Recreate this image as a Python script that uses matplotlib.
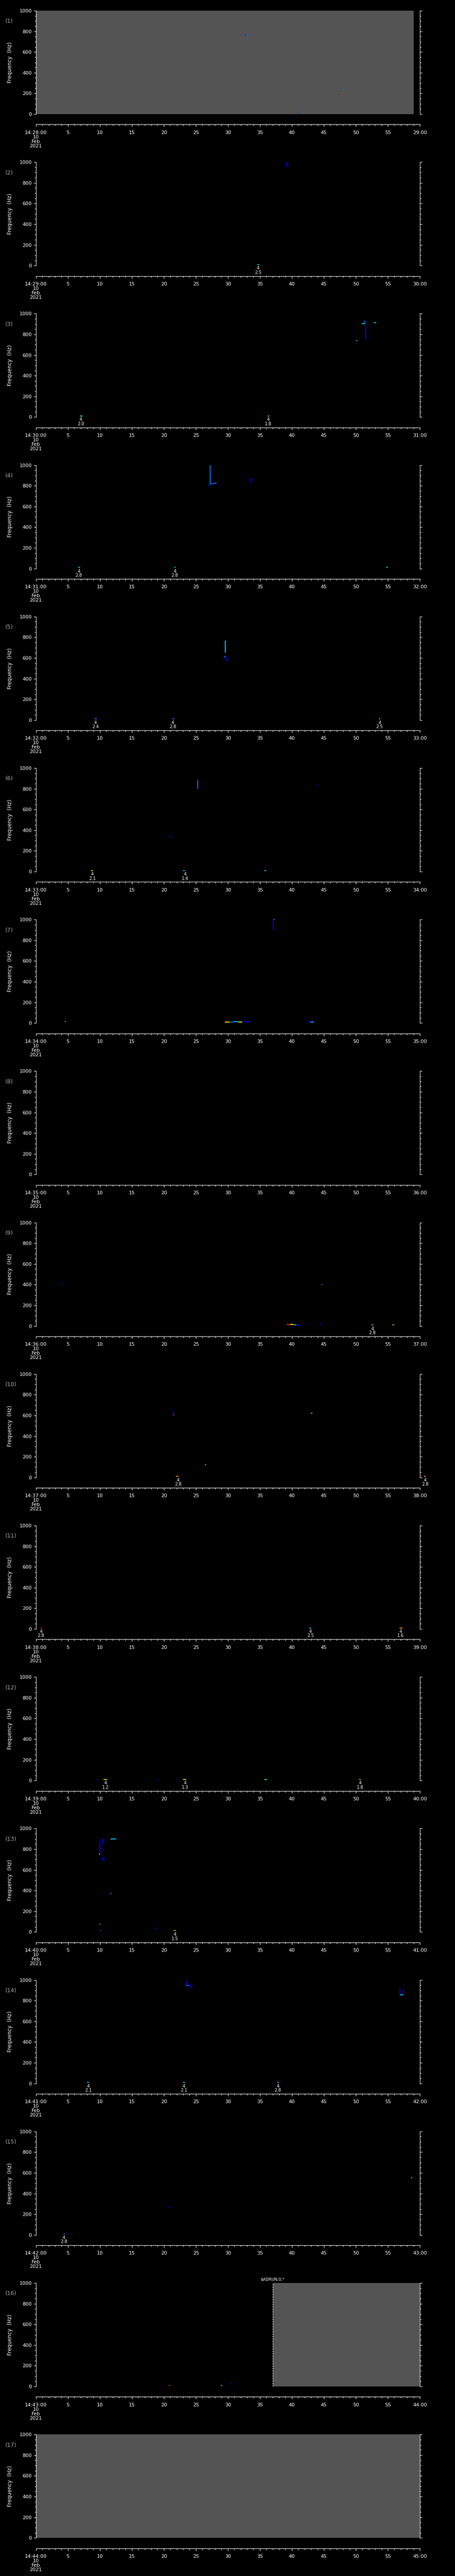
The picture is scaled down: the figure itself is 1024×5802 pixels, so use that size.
import matplotlib
matplotlib.use("Agg")
import matplotlib.pyplot as plt
from matplotlib.ticker import MultipleLocator

# one panel per minute, 14:28 -> 14:44 on 10 Feb 2021
minutes = list(range(28, 45))
date_lines = ["10", "Feb", "2021"]
freq_ticks = [0, 200, 400, 600, 800, 1000]

# grey = no data, panel -> (t0, t1) in seconds
gray_spans = {1: (0, 59), 16: (37, 60), 17: (0, 60)}
adrun_time = 37.0  # panel 16 marker

# spectrogram colours (jet-ish)
B, LB, C, G, Y, O, R = "#0000ff", "#0a78ff", "#00d0ff", "#40ff90", "#f0f000", "#ff9000", "#ff2000"

# traces per panel: (t0, t1, f0, f1, colour)
traces = {
    1: [(32.7, 33.0, 765, 765, B), (32.9, 33.1, 758, 770, LB), (47.9, 48.1, 242, 242, LB),
        (41.6, 41.8, 16, 16, LB)],
    2: [(39.2, 39.2, 960, 998, B), (39.05, 39.2, 960, 960, B), (34.6, 34.9, 10, 10, C)],
    3: [(51.5, 51.5, 765, 880, B), (51.5, 51.7, 762, 762, B), (50.9, 51.3, 905, 905, C),
        (51.4, 51.4, 900, 935, LB), (52.8, 53.1, 910, 910, C), (50.0, 50.2, 740, 740, C),
        (6.9, 7.3, 12, 12, G), (36.2, 36.5, 12, 12, C)],
    4: [(27.2, 27.2, 808, 1000, LB), (26.9, 27.2, 806, 806, B), (27.4, 28.2, 818, 828, LB),
        (33.5, 33.5, 830, 865, B), (33.5, 33.7, 865, 865, B), (6.6, 6.9, 10, 10, C),
        (21.6, 21.8, 10, 10, C), (54.7, 55.0, 10, 10, C)],
    5: [(29.6, 29.6, 650, 766, C), (29.6, 29.7, 766, 766, LB), (29.4, 29.6, 605, 620, LB),
        (29.7, 29.7, 570, 615, B), (9.2, 9.5, 10, 10, LB), (21.3, 21.6, 10, 10, LB),
        (53.6, 53.8, 10, 10, C)],
    6: [(25.3, 25.3, 800, 883, LB), (25.2, 25.3, 800, 800, B), (43.8, 44.0, 837, 837, B),
        (21.0, 21.2, 337, 337, B), (8.6, 8.9, 10, 10, Y), (23.0, 23.3, 10, 10, C),
        (35.7, 36.0, 10, 10, C)],
    7: [(37.1, 37.1, 896, 1000, B), (37.1, 37.3, 1000, 1000, LB), (4.5, 4.7, 15, 15, G),
        (29.5, 30.2, 10, 10, Y), (30.2, 30.9, 10, 10, LB), (30.9, 31.6, 12, 12, C),
        (31.6, 32.2, 10, 10, Y), (32.2, 33.4, 12, 12, B), (42.3, 42.9, 12, 12, B),
        (42.9, 43.4, 10, 10, C)],
    8: [],
    9: [(4.1, 4.3, 414, 414, B), (44.6, 44.8, 402, 402, LB), (39.2, 39.7, 15, 15, R),
        (39.7, 40.2, 15, 15, Y), (40.2, 40.7, 12, 12, C), (40.7, 41.3, 8, 8, B),
        (42.3, 42.5, 15, 15, B), (44.3, 44.5, 15, 15, B), (52.4, 52.7, 12, 12, C),
        (55.7, 56.0, 12, 12, G)],
    10: [(21.5, 21.5, 602, 648, B), (21.5, 21.6, 605, 605, R), (43.0, 43.2, 623, 623, G),
         (26.4, 26.6, 124, 124, C), (21.9, 22.3, 12, 12, O), (60.6, 60.9, 12, 12, O)],
    11: [(0.7, 0.9, 10, 10, R), (42.7, 43.0, 10, 10, C), (56.8, 57.3, 10, 10, O)],
    12: [(10.6, 11.1, 10, 10, Y), (18.8, 19.0, 10, 10, B), (23.0, 23.5, 10, 10, Y),
         (35.7, 36.1, 10, 10, G), (50.5, 50.8, 10, 10, G)],
    13: [(10.0, 10.0, 752, 883, B), (9.9, 10.05, 752, 752, Y), (10.3, 10.3, 854, 902, B),
         (10.5, 10.5, 854, 900, B), (10.4, 10.4, 691, 729, B), (10.4, 10.7, 691, 691, B),
         (11.7, 12.5, 898, 898, C), (11.6, 11.8, 372, 372, LB), (9.95, 10.1, 73, 73, C),
         (10.05, 10.15, 13, 13, LB), (18.6, 18.9, 38, 38, B), (21.5, 21.9, 15, 15, O)],
    14: [(23.5, 23.5, 945, 996, B), (23.5, 23.9, 945, 945, LB), (24.1, 24.1, 923, 955, B),
         (56.9, 56.9, 862, 919, B), (56.9, 57.4, 855, 855, C), (57.45, 57.45, 852, 910, B),
         (8.0, 8.3, 10, 10, C), (23.0, 23.3, 10, 10, C), (37.7, 37.9, 10, 10, C)],
    15: [(58.6, 58.8, 554, 554, C), (20.7, 20.7, 260, 275, B), (4.3, 4.5, 10, 10, LB)],
    16: [(20.8, 21.0, 10, 10, R), (28.9, 29.1, 10, 10, O), (30.4, 30.6, 25, 25, B)],
    17: [],
}

# detections printed under the panel: (t, value), class is always 4
detections = {
    2: [(34.7, 2.5)],
    3: [(7.0, 2.0), (36.3, 1.8)],
    4: [(6.7, 2.8), (21.7, 2.8)],
    5: [(9.3, 2.4), (21.4, 2.8), (53.7, 2.5)],
    6: [(8.8, 2.1), (23.3, 1.4)],
    9: [(52.6, 2.8)],
    10: [(22.2, 2.8), (60.8, 2.8)],
    11: [(0.8, 2.8), (42.9, 2.5), (57.0, 1.6)],
    12: [(10.9, 1.2), (23.3, 1.3), (50.65, 1.8)],
    13: [(21.7, 1.5)],
    14: [(8.2, 2.1), (23.1, 2.1), (37.8, 2.8)],
    15: [(4.4, 2.8)],
}

W, H = 1024, 5802
fig = plt.figure(figsize=(W / 100, H / 100), dpi=100, facecolor="black")

left_px, right_px = 80.7, 945.0
first_top, step, panel_h = 24.0, 341.2, 233.0

for i, m in enumerate(minutes):
    p = i + 1
    top = first_top + step * i
    ax = fig.add_axes([left_px / W, 1 - (top + panel_h) / H, (right_px - left_px) / W, panel_h / H])
    ax.set_facecolor("black")
    ax.set_xlim(0, 60)
    ax.set_ylim(0, 1000)

    if p in gray_spans:
        g0, g1 = gray_spans[p]
        ax.axvspan(g0, g1, color="#545454", lw=0, zorder=0)
    if p == 16:
        ax.axvline(adrun_time, color="white", lw=0.8, ls=(0, (3, 2)), zorder=1)
        ax.annotate("$ADRUN,0,*", xy=(adrun_time, 1000), xytext=(0, 4), textcoords="offset pixels",
                    ha="center", va="bottom", color="white", fontsize=6.5, annotation_clip=False)

    for t0, t1, f0, f1, col in traces[p]:
        ax.plot([t0, t1], [f0, f1], color=col, lw=1.4, solid_capstyle="butt", clip_on=False, zorder=2)

    for t, v in detections.get(p, []):
        ax.annotate("4", xy=(t, 0), xytext=(0, -6), textcoords="offset pixels", ha="center",
                    va="center", color="white", fontsize=7, annotation_clip=False)
        ax.annotate(f"{v:.1f}", xy=(t, 0), xytext=(0, -15.5), textcoords="offset pixels",
                    ha="center", va="center", color="white", fontsize=7, annotation_clip=False)

    for side in ["top"]:
        ax.spines[side].set_visible(False)
    for side in ["left", "right", "bottom"]:
        ax.spines[side].set_color("white")
        ax.spines[side].set_linewidth(0.8)
    ax.spines["bottom"].set_position(("outward", 16.8))

    ax.set_yticks(freq_ticks)
    ax.yaxis.set_minor_locator(MultipleLocator(50))
    ax.set_xticks(range(0, 61, 5))
    ax.xaxis.set_minor_locator(MultipleLocator(1))
    xlabels = [f"14:{m:02d}:00\n" + "\n".join(date_lines)] + [str(s) for s in range(5, 60, 5)] + [f"{m + 1:02d}:00"]
    ax.set_xticklabels(xlabels)
    for lbl in ax.get_xticklabels():
        lbl.set_linespacing(1.0)

    ax.tick_params(axis="y", which="both", direction="out", left=True, right=True, colors="white",
                   labelsize=8, width=0.8, pad=3.2)
    ax.tick_params(axis="y", which="major", length=3.4)
    ax.tick_params(axis="y", which="minor", length=2.2)
    ax.tick_params(axis="x", which="both", direction="out", colors="white", labelsize=8, width=0.8)
    ax.tick_params(axis="x", which="major", length=3.6, pad=6.0)
    ax.tick_params(axis="x", which="minor", length=2.0)

    fig.text(11.5 / W, 1 - (top + 24) / H, f"({p})", color="#a8a8a8", fontsize=9, ha="left", va="center")
    fig.text(23 / W, 1 - (top + panel_h / 2) / H, "Frequency  (Hz)", color="white", fontsize=8.5,
             rotation=90, ha="center", va="center")

fig.savefig("out.png", dpi=100, facecolor="black")
